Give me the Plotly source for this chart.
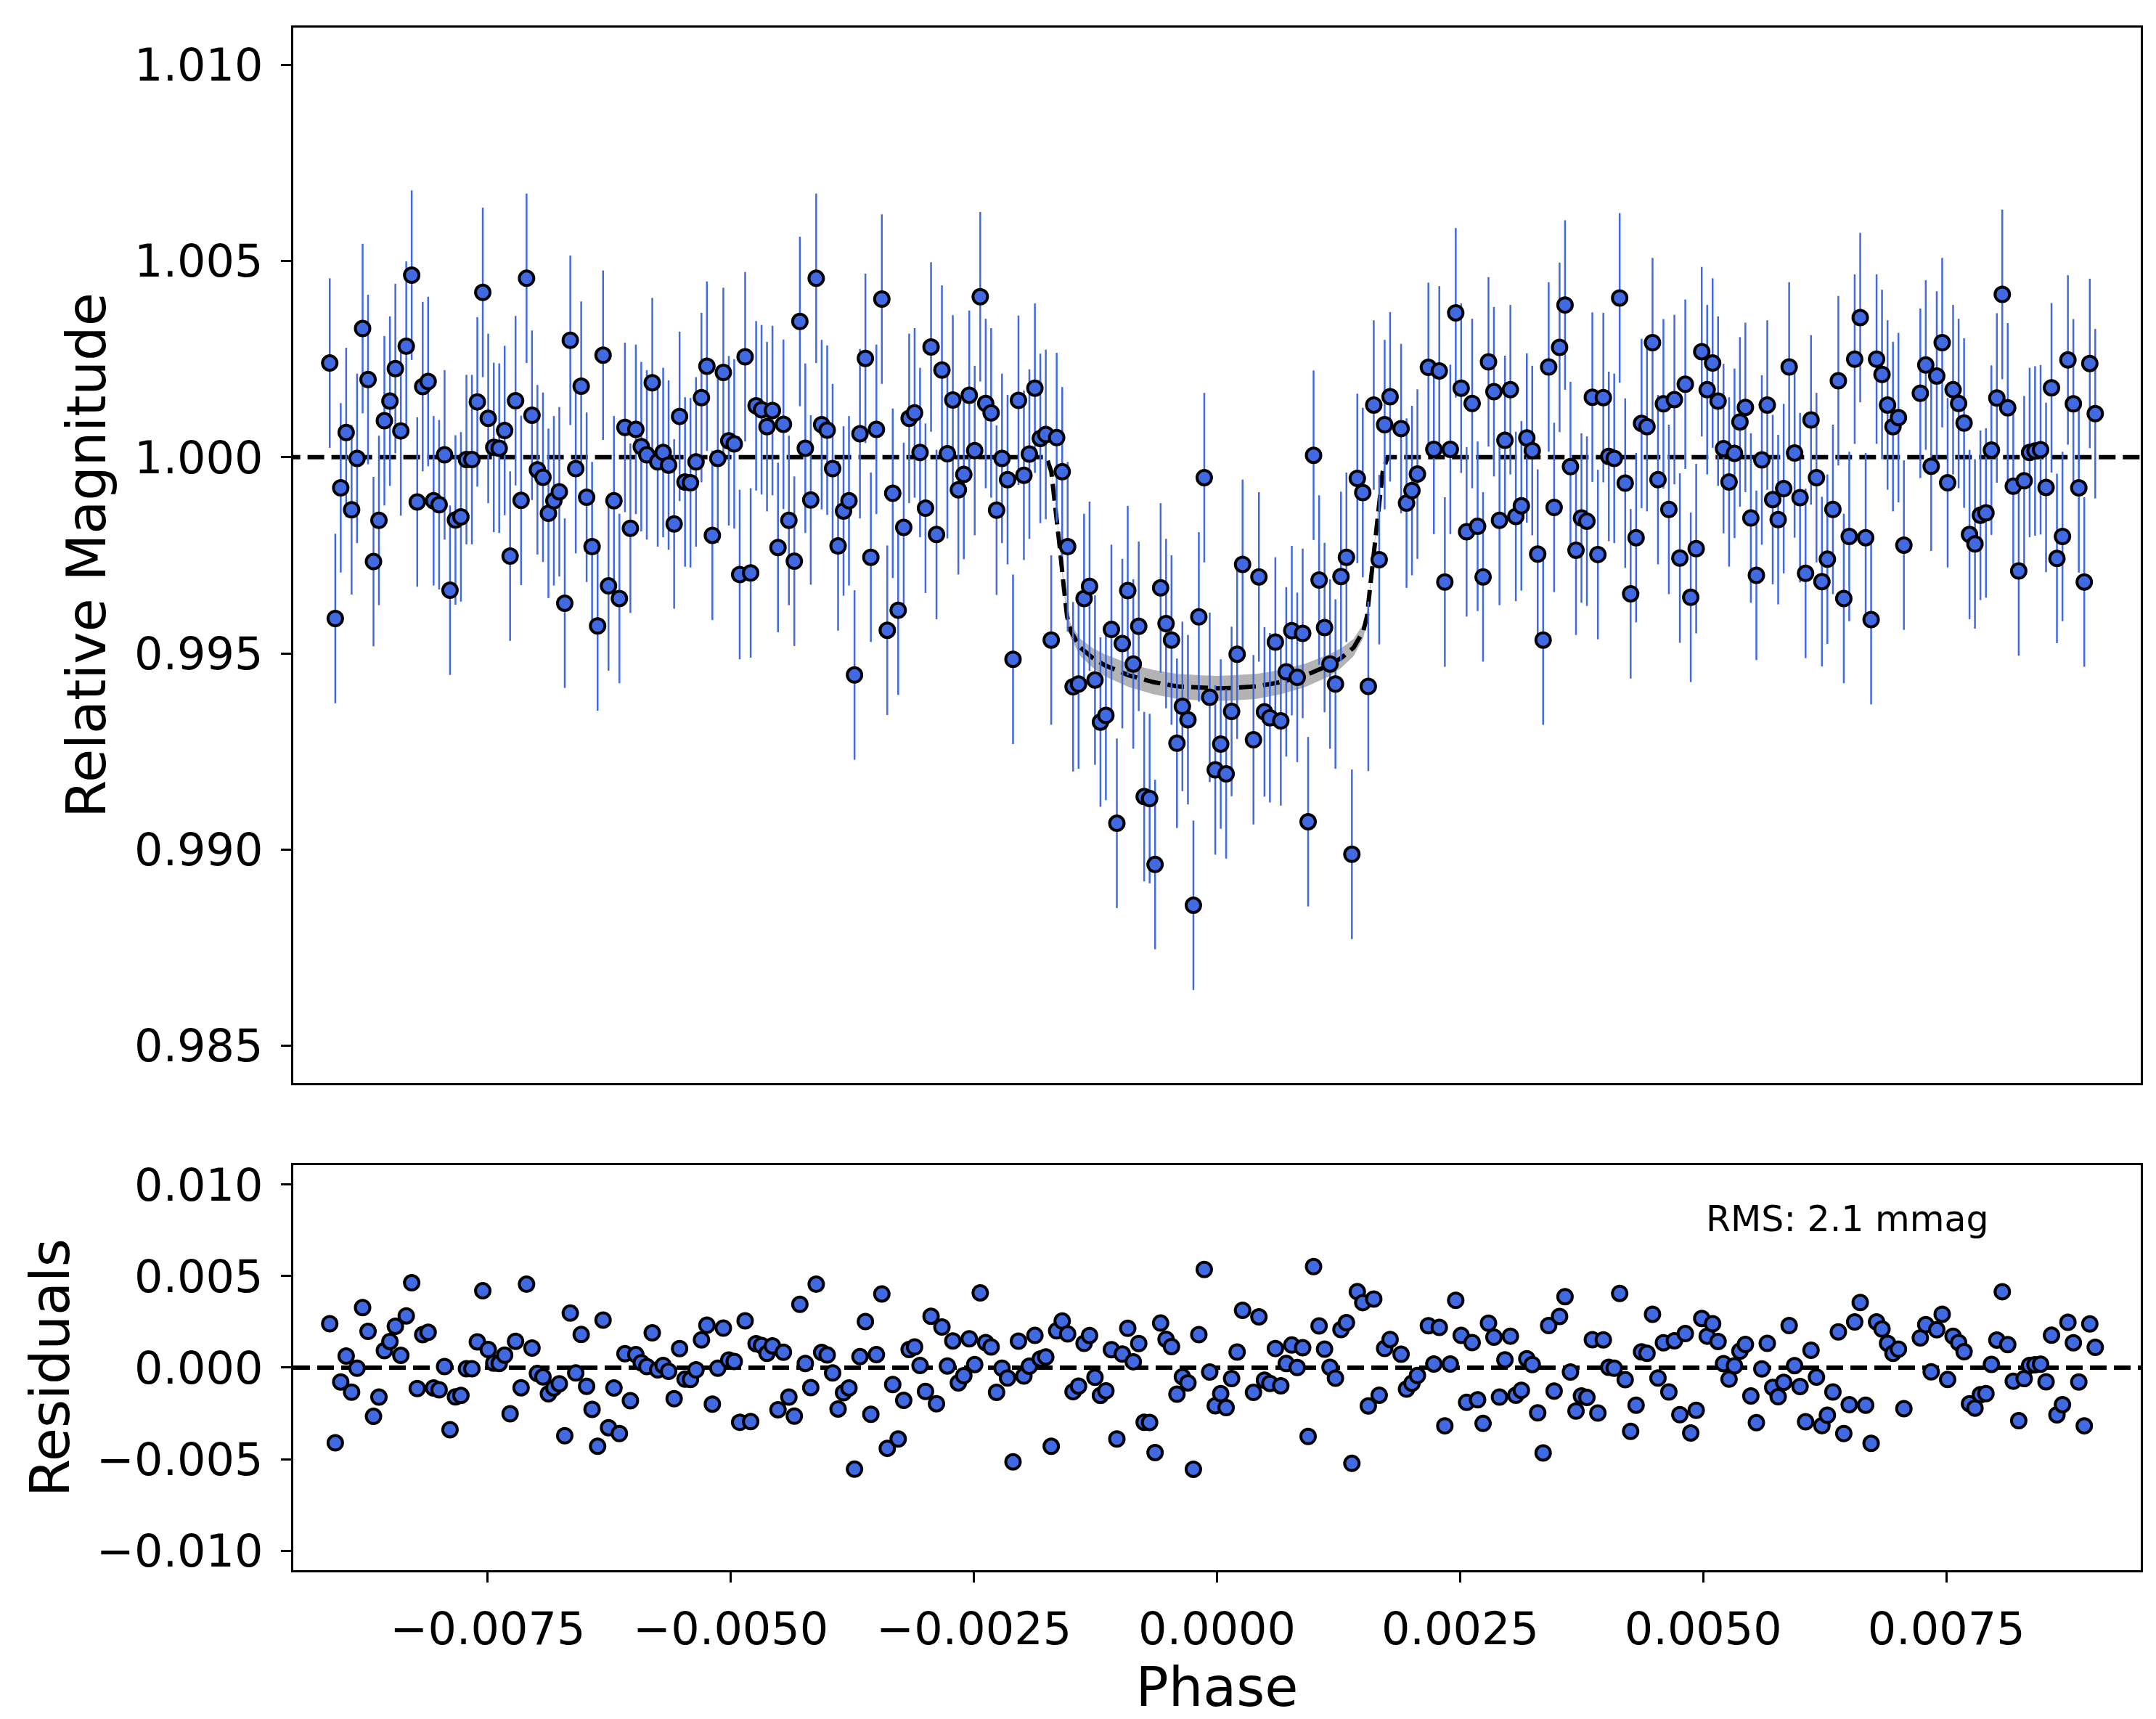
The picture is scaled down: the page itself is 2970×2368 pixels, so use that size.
import numpy as np
import plotly.graph_objects as go

# Phase of each observation, in units of 1e-6
phase_u = [
    -9125, -9068, -9012, -8956, -8900, -8844, -8787, -8731, -8675, -8619,
    -8563, -8506, -8450, -8394, -8338, -8282, -8225, -8169, -8113, -8057,
    -8000, -7944, -7888, -7832, -7776, -7719, -7663, -7607, -7551, -7495,
    -7438, -7382, -7326, -7270, -7214, -7157, -7101, -7045, -6989, -6932,
    -6876, -6820, -6764, -6708, -6651, -6595, -6539, -6483, -6427, -6370,
    -6314, -6258, -6202, -6146, -6089, -6033, -5977, -5921, -5864, -5808,
    -5752, -5696, -5640, -5583, -5527, -5471, -5415, -5358, -5302, -5246,
    -5190, -5134, -5077, -5021, -4965, -4909, -4853, -4796, -4740, -4684,
    -4628, -4572, -4515, -4459, -4403, -4347, -4290, -4234, -4178, -4122,
    -4066, -4009, -3953, -3897, -3841, -3785, -3728, -3672, -3616, -3560,
    -3503, -3447, -3391, -3335, -3279, -3222, -3166, -3110, -3054, -2998,
    -2941, -2885, -2829, -2773, -2717, -2660, -2604, -2548, -2492, -2435,
    -2379, -2323, -2267, -2211, -2154, -2098, -2042, -1986, -1930, -1873,
    -1817, -1761, -1705, -1649, -1592, -1536, -1480, -1424, -1367, -1311,
    -1255, -1199, -1143, -1086, -1030, -974, -918, -861, -805, -749,
    -693, -637, -580, -524, -468, -412, -356, -299, -243, -187,
    -131, -75, -18, 38, 94, 150, 207, 263,
    375, 431, 488, 544, 600, 656, 712, 769, 825, 881, 937,
    993, 1050, 1106, 1162, 1218, 1275, 1331, 1387, 1443, 1499,
    1556, 1612, 1668, 1724, 1780,
    1893, 1949, 2005, 2061,
    2174, 2230, 2286, 2343, 2399, 2455, 2511, 2567, 2624,
    2680, 2736, 2792, 2848, 2905, 2961, 3017, 3073, 3130, 3186,
    3242, 3298, 3354, 3411, 3467, 3523, 3579, 3635, 3692, 3748,
    3804, 3860, 3917, 3973, 4029, 4085, 4141, 4198, 4254, 4310,
    4366, 4422, 4479, 4535, 4591, 4647, 4704, 4760, 4816, 4872,
    4928, 4985, 5041, 5097, 5153, 5209, 5266, 5322, 5378, 5434,
    5490, 5547, 5603, 5659, 5715, 5771, 5828, 5884, 5940, 5996,
    6053, 6109, 6165, 6221, 6277, 6334, 6390, 6446, 6502, 6558,
    6615, 6671, 6727, 6783, 6839, 6896, 6952, 7008, 7064,
    7233, 7289, 7345, 7402, 7458, 7514, 7570, 7627, 7683,
    7739, 7795, 7851, 7908, 7964, 8020, 8076, 8132, 8189, 8245,
    8301, 8357, 8413, 8470, 8526, 8582, 8638, 8695, 8751, 8807,
    8863, 8919, 8976, 9032,
]

# Relative magnitude of each observation
mag = [
    1.00240, 0.99589, 0.99922, 1.00063, 0.99866, 0.99997, 1.00328, 1.00198, 0.99734, 0.99839,
    1.00093, 1.00143, 1.00226, 1.00067, 1.00283, 1.00464, 0.99886, 1.00180, 1.00193, 0.99889,
    0.99879, 1.00006, 0.99661, 0.99840, 0.99848, 0.99994, 0.99994, 1.00141, 1.00420, 1.00099,
    1.00025, 1.00023, 1.00068, 0.99748, 1.00144, 0.99890, 1.00456,
    1.00107, 0.99968, 0.99949, 0.99857, 0.99889, 0.99912, 0.99628, 1.00298, 0.99971, 1.00181,
    0.99898, 0.99772, 0.99570, 1.00260, 0.99672, 0.99889, 0.99640, 1.00076, 0.99819, 1.00071,
    1.00027, 1.00006, 1.00190, 0.99988, 1.00012, 0.99980, 0.99830, 1.00104, 0.99937, 0.99935,
    0.99988, 1.00152, 1.00232, 0.99801, 0.99997, 1.00216, 1.00042, 1.00034, 0.99701, 1.00256,
    0.99705, 1.00131, 1.00121, 1.00078,
    1.00119, 0.99770, 1.00084, 0.99839, 0.99735, 1.00346, 1.00023, 0.99891, 1.00456, 1.00083,
    1.00069, 0.99971, 0.99774, 0.99863, 0.99889, 0.99445, 1.00060, 1.00252, 0.99745, 1.00071,
    1.00403, 0.99559, 0.99908, 0.99610, 0.99821, 1.00099, 1.00113, 1.00012, 0.99870, 1.00281,
    0.99803, 1.00222, 1.00009, 1.00146, 0.99917, 0.99956, 1.00158, 1.00017, 1.00409, 1.00137,
    1.00113, 0.99865, 0.99997, 0.99943,
    0.99485, 1.00145, 0.99954, 1.00008, 1.00176, 1.00048, 1.00058, 0.99534, 1.00050, 0.99963,
    0.99772, 0.99415, 0.99422, 0.99640, 0.99671, 0.99432, 0.99325, 0.99342, 0.99561, 0.99067,
    0.99525, 0.99660, 0.99473, 0.99569, 0.99135, 0.99130, 0.98962, 0.99667, 0.99576, 0.99534,
    0.99271, 0.99365, 0.99331, 0.98858, 0.99593, 0.99948, 0.99388, 0.99203, 0.99269, 0.99193,
    0.99352, 0.99498, 0.99727,
    0.99280, 0.99695, 0.99351, 0.99336, 0.99529, 0.99328, 0.99453, 0.99558, 0.99439, 0.99551,
    0.99071, 1.00005, 0.99687, 0.99566, 0.99473, 0.99422, 0.99696, 0.99745, 0.98988, 0.99946,
    0.99910, 0.99416, 1.00133, 0.99739, 1.00083, 1.00154,
    1.00073, 0.99883, 0.99915, 0.99957,
    1.00229, 1.00020, 1.00220, 0.99682, 1.00020, 1.00368, 1.00176, 0.99810, 1.00137, 0.99824,
    0.99695,
    1.00243, 1.00167, 0.99839, 1.00043, 1.00172, 0.99849, 0.99876, 1.00049, 1.00017, 0.99753,
    0.99534, 1.00230, 0.99872, 1.00280, 1.00388, 0.99976, 0.99763, 0.99845, 0.99837, 1.00153,
    0.99752, 1.00152, 1.00002, 0.99997, 1.00406, 0.99934, 0.99652, 0.99795, 1.00086, 1.00078,
    1.00292, 0.99943, 1.00136, 0.99867, 1.00147, 0.99743, 1.00186, 0.99643, 0.99767, 1.00269,
    1.00172, 1.00240, 1.00143, 1.00022,
    0.99937, 1.00010, 1.00090, 1.00127, 0.99845, 0.99699, 0.99993, 1.00133, 0.99892, 0.99841,
    0.99920, 1.00230, 1.00011, 0.99897, 0.99704, 1.00095, 0.99948, 0.99683, 0.99740, 0.99867,
    1.00195, 0.99640, 0.99798, 1.00250, 1.00356, 0.99795, 0.99586, 1.00250, 1.00211, 1.00133,
    1.00078, 1.00101, 0.99776,
    1.00163, 1.00235, 0.99977, 1.00207, 1.00292, 0.99935, 1.00172, 1.00137, 1.00087,
    0.99803, 0.99779, 0.99852, 0.99858, 1.00018, 1.00151, 1.00415, 1.00126, 0.99926, 0.99710,
    0.99940, 1.00012, 1.00016, 1.00019, 0.99923, 1.00177, 0.99742, 0.99798, 1.00248, 1.00136,
    0.99922, 0.99682, 1.00239, 1.00111,
]
mag_err = 0.00216

# Transit model (phase in 1e-6)
model_phase_u = [-9600, -1754, -1704, -1654, -1617, -1580, -1542, -1505, -1405, -1281,
                 -1156, -907, -658, -409, -159, 0, 159, 409, 658, 907,
                 1156, 1281, 1405, 1505, 1542, 1580, 1617, 1654, 1704, 1754, 9600]
model_mag = [1.0, 1.0, 0.99963, 0.99861, 0.99770, 0.99679, 0.99594, 0.99557, 0.99515, 0.99489,
             0.99470, 0.99444, 0.99427, 0.99416, 0.99412, 0.99411, 0.99412, 0.99416, 0.99427, 0.99444,
             0.99470, 0.99489, 0.99515, 0.99557, 0.99594, 0.99679, 0.99770, 0.99861, 0.99963, 1.0, 1.0]
model_band = [0, 0, 0.00003, 0.00005, 0.00007, 0.00009, 0.00012, 0.00018, 0.00022, 0.00025,
              0.00028, 0.0003, 0.00031, 0.00032, 0.00032, 0.00032, 0.00032, 0.00032, 0.00031, 0.0003,
              0.00028, 0.00025, 0.00022, 0.00018, 0.00012, 0.00009, 0.00007, 0.00005, 0.00003, 0, 0]

rms_label = "RMS: 2.1 mmag"

phase = np.array(phase_u) * 1e-6
mag = np.array(mag)
model_phase = np.array(model_phase_u) * 1e-6
model_mag = np.array(model_mag)
model_band = np.array(model_band)
resid = mag - np.interp(phase, model_phase, model_mag)

blue = "#4169E1"
font = "DejaVu Sans"
dash = "23px,10px"
marker_style = dict(size=20, color=blue, line=dict(color="black", width=4))

fig = go.Figure()

# uncertainty band of the model
fig.add_trace(go.Scatter(x=model_phase, y=model_mag + model_band, mode="lines",
                         line=dict(width=0, color="rgba(0,0,0,0)"), showlegend=False,
                         hoverinfo="skip", xaxis="x", yaxis="y"))
fig.add_trace(go.Scatter(x=model_phase, y=model_mag - model_band, mode="lines",
                         line=dict(width=0, color="rgba(0,0,0,0)"), fill="tonexty",
                         fillcolor="rgba(150,150,150,0.72)", showlegend=False,
                         hoverinfo="skip", xaxis="x", yaxis="y"))
# model
fig.add_trace(go.Scatter(x=model_phase, y=model_mag, mode="lines",
                         line=dict(color="black", width=6, dash=dash),
                         showlegend=False, xaxis="x", yaxis="y"))
# data
fig.add_trace(go.Scatter(x=phase, y=mag, mode="markers", marker=marker_style,
                         error_y=dict(type="constant", value=mag_err, color=blue,
                                      thickness=2.5, width=0),
                         showlegend=False, xaxis="x", yaxis="y"))
# residuals
fig.add_trace(go.Scatter(x=phase, y=resid, mode="markers", marker=marker_style,
                         showlegend=False, xaxis="x2", yaxis="y2"))

fig.add_shape(type="line", xref="x2 domain", yref="y2", x0=0, x1=1,
              y0=0, y1=0, line=dict(color="black", width=6, dash=dash), layer="below")

fig.add_annotation(text=rms_label, xref="x2 domain", yref="y2 domain", x=0.764, y=0.867,
                   xanchor="left", yanchor="middle", showarrow=False,
                   font=dict(family=font, size=49, color="black"))

axis_style = dict(showline=True, mirror=True, linecolor="black", linewidth=3.3,
                  showgrid=False, zeroline=False, tickcolor="black",
                  tickfont=dict(family=font, size=62, color="black"))

fig.update_layout(
    width=2970, height=2368,
    margin=dict(l=396, r=29, t=30, b=213),
    paper_bgcolor="white", plot_bgcolor="white",
    font=dict(family=font, color="black"),
    xaxis=dict(domain=[0, 1], anchor="y", range=[-0.0095, 0.0095],
               showticklabels=False, ticks="", **axis_style),
    yaxis=dict(domain=[0.3158, 1], anchor="x", range=[0.98405, 1.01095],
               tick0=1.0, dtick=0.005, tickformat=".3f", ticks="outside",
               ticklen=14, tickwidth=3.3, ticklabelstandoff=12,
               title=dict(text="Relative Magnitude", standoff=15,
                          font=dict(family=font, size=75, color="black")),
               **axis_style),
    xaxis2=dict(domain=[0, 1], anchor="y2", range=[-0.0095, 0.0095],
                tick0=0, dtick=0.0025, tickformat=".4f", ticks="outside",
                ticklen=14, tickwidth=3.3, ticklabelstandoff=10,
                title=dict(text="Phase", standoff=8,
                           font=dict(family=font, size=75, color="black")),
                **axis_style),
    yaxis2=dict(domain=[0, 0.2626], anchor="x2", range=[-0.01107, 0.01107],
                tick0=0, dtick=0.005, tickformat=".3f", ticks="outside",
                ticklen=14, tickwidth=3.3, ticklabelstandoff=12,
                title=dict(text="Residuals", standoff=13,
                           font=dict(family=font, size=75, color="black")),
                **axis_style),
)

fig.write_html("out.html")
